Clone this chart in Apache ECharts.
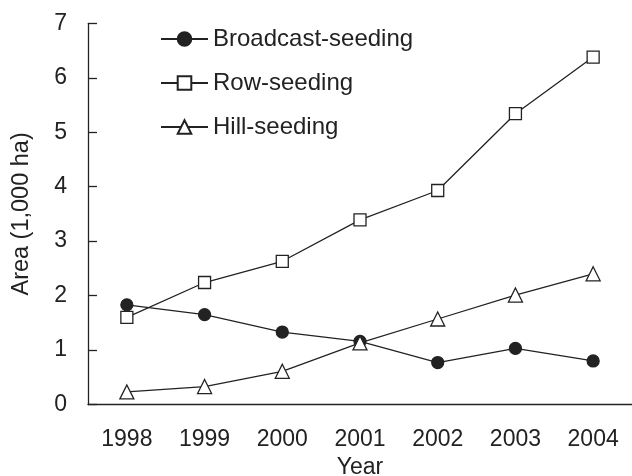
<!DOCTYPE html>
<html>
<head>
<meta charset="utf-8">
<script src="https://cdn.jsdelivr.net/npm/echarts@6/dist/echarts.min.js"></script>
<style>html,body{margin:0;padding:0;background:#fff}#c{width:632px;height:476px}</style>
</head>
<body>
<div id="c"></div>
<script>
var years = ['1998','1999','2000','2001','2002','2003','2004'];
var broadcast = [1.83, 1.65, 1.33, 1.16, 0.77, 1.03, 0.80];
var row = [1.60, 2.24, 2.63, 3.39, 3.93, 5.34, 6.38];
var hill = [0.23, 0.33, 0.61, 1.13, 1.57, 2.01, 2.40];
var seriesNames = ['Broadcast-seeding', 'Row-seeding', 'Hill-seeding'];

var ink = '#222';
var font = 'Liberation Sans, Arial, sans-serif';
var chart = echarts.init(document.getElementById('c'), null, {renderer: 'canvas'});

function mk(name, data, symbol, size, fill) {
  return {
    name: name, type: 'line', data: data, symbol: symbol, symbolSize: size,
    lineStyle: {color: ink, width: 1.3},
    itemStyle: {color: fill, borderColor: ink, borderWidth: 1.3},
    emphasis: {disabled: true}, animation: false
  };
}

chart.setOption({
  animation: false,
  textStyle: {fontFamily: font, color: ink},
  grid: {left: 88, right: 0, top: 23.3, bottom: 71.5, containLabel: false, outerBoundsMode: 'none'},
  legend: {
    orient: 'vertical', left: 160, top: 27, padding: 0,
    itemWidth: 47, itemHeight: 17, itemGap: 20,
    textStyle: {fontSize: 24, color: ink, fontFamily: font},
    data: seriesNames
  },
  xAxis: {
    type: 'category', data: years, boundaryGap: true,
    name: 'Year', nameLocation: 'middle', nameGap: 52,
    nameTextStyle: {fontSize: 23, color: ink},
    axisLine: {lineStyle: {color: ink, width: 1.3}},
    axisTick: {inside: true, length: 9, lineStyle: {color: ink, width: 1.3}},
    axisLabel: {fontSize: 23, color: ink, margin: 24},
    splitLine: {show: false}
  },
  yAxis: {
    type: 'value', min: 0, max: 7, interval: 1,
    name: 'Area (1,000 ha)', nameLocation: 'middle', nameGap: 54,
    nameTextStyle: {fontSize: 23.5, color: ink},
    axisLine: {show: true, lineStyle: {color: ink, width: 1.3}},
    axisTick: {show: true, inside: true, length: 9, lineStyle: {color: ink, width: 1.3}},
    axisLabel: {fontSize: 23, color: ink, margin: 21},
    splitLine: {show: false}
  },
  series: [
    mk(seriesNames[0], broadcast, 'circle', 12, ink),
    mk(seriesNames[1], row, 'rect', 12, '#fff'),
    mk(seriesNames[2], hill, 'triangle', 14, '#fff')
  ]
});
</script>
</body>
</html>
